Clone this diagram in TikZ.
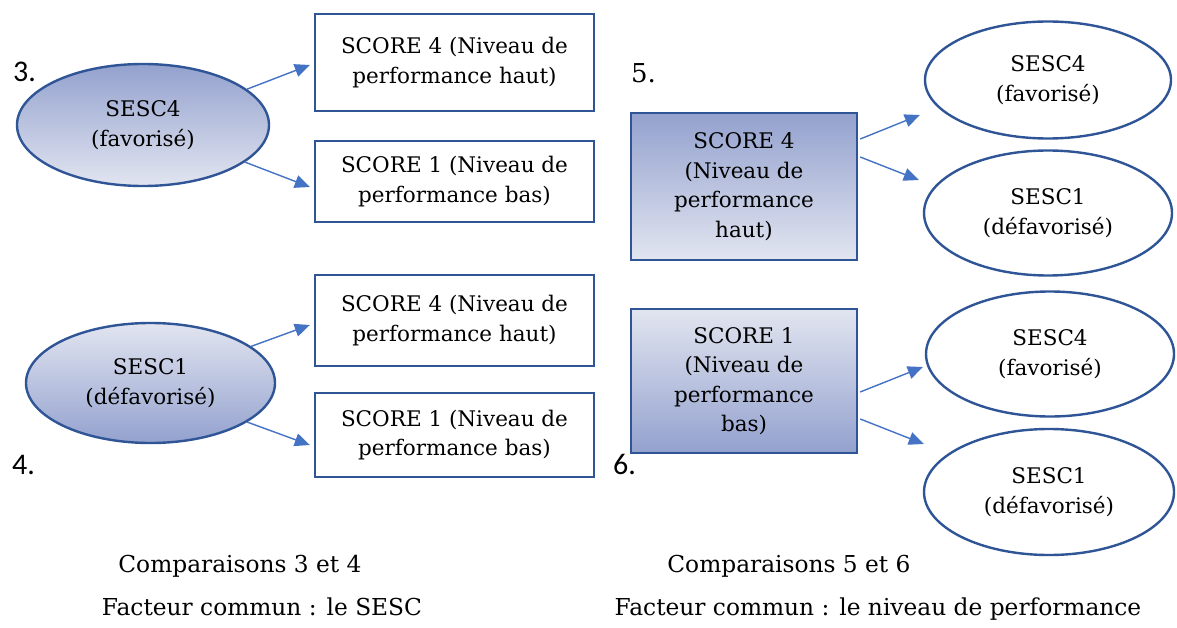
\documentclass[tikz,border=0pt]{standalone}
\usepackage{fontspec}
\setmainfont{DejaVu Serif}
\newfontfamily\numfont{Carlito}
\usetikzlibrary{shapes.geometric,arrows.meta,calc}
\definecolor{bord}{HTML}{2F5597}
\definecolor{arrc}{HTML}{4472C4}
\definecolor{shdk}{HTML}{93A1CE}
\definecolor{shlt}{HTML}{E2E5F0}
\begin{document}
\begin{tikzpicture}[x=1pt,y=-1pt,
  txt/.style={font=\fontsize{21.5}{29.5}\selectfont, align=center, text=black},
  ell/.style={ellipse, draw=bord, line width=2.4pt, inner sep=0pt, txt},
  boxn/.style={rectangle, draw=bord, line width=2.4pt, inner sep=0pt, txt},
  dkup/.style={top color=shdk, bottom color=shlt},
  dkdown/.style={top color=shlt, bottom color=shdk},
  conn/.style={draw=arrc, line width=1.4pt, -{Triangle[length=15pt,width=13pt]}},
  numlab/.style={font=\numfont\fontsize{30}{32}\selectfont, anchor=base west, inner sep=0pt},
  captxt/.style={font=\fontsize{23.3}{28}\selectfont, anchor=base, inner sep=0pt}]
\useasboundingbox (0,0) rectangle (1177,628);
% left column
\node[ell, dkup, minimum width=252pt, minimum height=122pt] (e1) at (143,125) {SESC4\\(favorisé)};
\node[ell, dkdown, minimum width=249pt, minimum height=120pt] (e2) at (150.5,383) {SESC1\\(défavorisé)};
\node[boxn, fill=white, minimum width=279pt, minimum height=97pt] (A) at (454.5,62.5) {SCORE 4 (Niveau de\\performance haut)};
\node[boxn, fill=white, minimum width=279pt, minimum height=81pt] (B) at (454.5,181.5) {SCORE 1 (Niveau de\\performance bas)};
\node[boxn, fill=white, minimum width=279pt, minimum height=91pt] (C) at (454.5,320.5) {SCORE 4 (Niveau de\\performance haut)};
\node[boxn, fill=white, minimum width=279pt, minimum height=84pt] (D) at (454.5,435) {SCORE 1 (Niveau de\\performance bas)};
% right column
\node[boxn, dkup, minimum width=226pt, minimum height=147pt] (E) at (744,186.5) {SCORE 4\\(Niveau de\\performance\\haut)};
\node[boxn, dkdown, minimum width=226pt, minimum height=144pt] (F) at (744,381) {SCORE 1\\(Niveau de\\performance\\bas)};
\node[ell, fill=white, minimum width=246pt, minimum height=117pt] (r1) at (1048,80) {SESC4\\(favorisé)};
\node[ell, fill=white, minimum width=248pt, minimum height=125pt] (r2) at (1048,213) {SESC1\\(défavorisé)};
\node[ell, fill=white, minimum width=248pt, minimum height=125pt] (r3) at (1050,354) {SESC4\\(favorisé)};
\node[ell, fill=white, minimum width=250pt, minimum height=126pt] (r4) at (1049,492) {SESC1\\(défavorisé)};
% connectors
\draw[conn] (e1.19) -- ($(A.west)+(-4,2.5)$);
\draw[conn] (e1.-20) -- ($(B.west)+(-4,5.5)$);
\draw[conn] (e2.20) -- ($(C.west)+(-4,4.5)$);
\draw[conn] (e2.-22) -- ($(D.west)+(-4,10)$);
\draw[conn] ($(E.east)+(2,-47.5)$) -- ($(r1.west)+(-4,35)$);
\draw[conn] ($(E.east)+(2,-29.5)$) -- ($(r2.west)+(-4,-33)$);
\draw[conn] ($(F.east)+(2,11)$) -- ($(r3.west)+(-2,13)$);
\draw[conn] ($(F.east)+(2,38)$) -- ($(r4.west)+(1,-48)$);
% numbers
\node[numlab] (n3) at (13,82) {3.};
\node[numlab] (n4) at (12,474) {4.};
\node[numlab, font=\fontsize{26}{30}\selectfont] (n5) at (631,83) {5.};
\node[numlab] (n6) at (613,474) {6.};
% captions
\node[captxt] (c1) at (240,572) {Comparaisons 3 et 4};
\node[captxt] (c2) at (262,615) {Facteur commun : le SESC};
\node[captxt] (c3) at (789,572) {Comparaisons 5 et 6};
\node[captxt] (c4) at (878,615) {Facteur commun : le niveau de performance};
\end{tikzpicture}
\end{document}
